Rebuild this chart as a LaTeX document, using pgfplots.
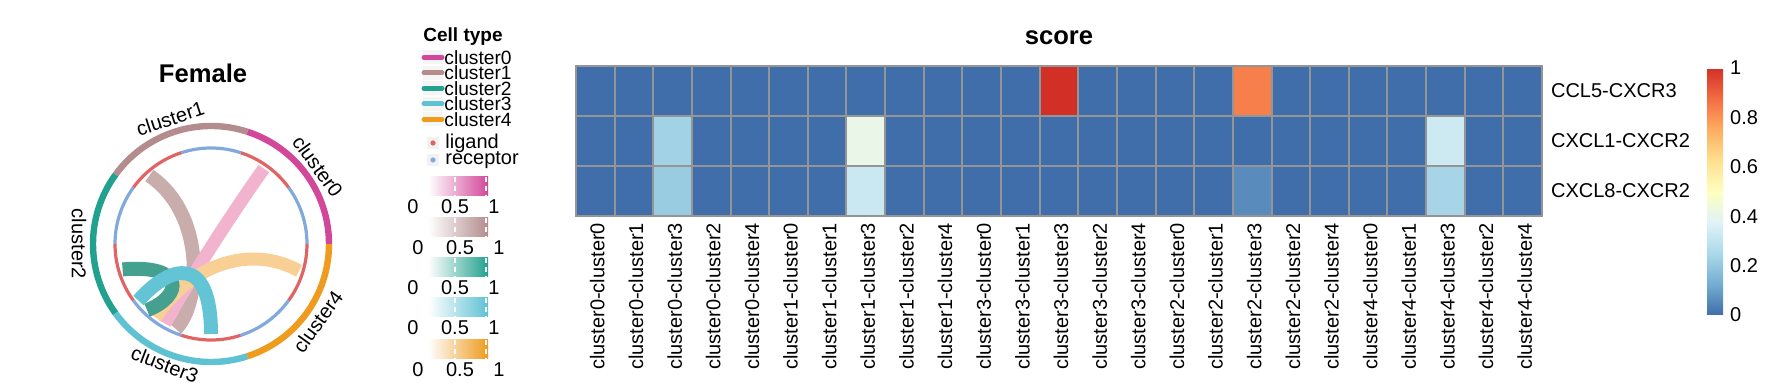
\documentclass[border=0pt]{standalone}
\usepackage{fontspec}
\setmainfont{Liberation Sans}
\usepackage{pgfplots}
\pgfplotsset{compat=1.18}
\pgfplotsset{every axis/.append style={/pgf/number format/assume math mode=true}}
\newcommand\fs[1]{\fontsize{#1}{#1}\selectfont}
\definecolor{cA}{HTML}{D2479A}
\definecolor{cB}{HTML}{B48C8E}
\definecolor{cC}{HTML}{22A18F}
\definecolor{cD}{HTML}{5EC2D3}
\definecolor{cE}{HTML}{EE9B1E}
\definecolor{chA}{HTML}{F2B3CF}
\definecolor{chB}{HTML}{C9ACAC}
\definecolor{chC}{HTML}{44A08F}
\definecolor{chD}{HTML}{62C4D4}
\definecolor{chE}{HTML}{F8CF94}
\definecolor{lig}{HTML}{E06464}
\definecolor{rec}{HTML}{82A9DC}
\definecolor{hgray}{HTML}{959595}
\begin{document}
\begin{tikzpicture}
\useasboundingbox (0,0) rectangle (891pt,-192pt);

% ---------------- chord diagram ----------------
\begin{axis}[at={(20.5pt,-207pt)}, anchor=south west, hide axis,
  x=0.5pt, y=0.5pt, xmin=-170, xmax=170, ymin=-170, ymax=170, clip=false]
\addplot[draw=none] coordinates {(0,0)};
% outer sectors
\draw[cA, line width=3.2pt] (axis cs:118,0) arc[start angle=0,end angle=72,radius=59pt];
\draw[cB, line width=3.2pt] (axis cs:36.46,112.23) arc[start angle=72,end angle=144,radius=59pt];
\draw[cC, line width=3.2pt] (axis cs:-95.46,69.36) arc[start angle=144,end angle=216,radius=59pt];
\draw[cD, line width=3.2pt] (axis cs:-95.46,-69.36) arc[start angle=216,end angle=288,radius=59pt];
\draw[cE, line width=3.2pt] (axis cs:36.46,-112.23) arc[start angle=288,end angle=360,radius=59pt];
% inner ligand / receptor ring
\draw[rec, line width=1.6pt] (axis cs:96,0) arc[start angle=0,end angle=36,radius=48pt];
\draw[lig, line width=1.6pt] (axis cs:77.66,56.43) arc[start angle=36,end angle=72,radius=48pt];
\draw[rec, line width=1.6pt] (axis cs:29.66,91.31) arc[start angle=72,end angle=108,radius=48pt];
\draw[lig, line width=1.6pt] (axis cs:-29.66,91.31) arc[start angle=108,end angle=144,radius=48pt];
\draw[rec, line width=1.6pt] (axis cs:-77.66,56.43) arc[start angle=144,end angle=180,radius=48pt];
\draw[lig, line width=1.6pt] (axis cs:-96,0) arc[start angle=180,end angle=216,radius=48pt];
\draw[rec, line width=1.6pt] (axis cs:-77.66,-56.43) arc[start angle=216,end angle=252,radius=48pt];
\draw[lig, line width=1.6pt] (axis cs:-29.66,-91.31) arc[start angle=252,end angle=288,radius=48pt];
\draw[rec, line width=1.6pt] (axis cs:29.66,-91.31) arc[start angle=288,end angle=324,radius=48pt];
\draw[lig, line width=1.6pt] (axis cs:77.66,-56.43) arc[start angle=324,end angle=360,radius=48pt];
% chords (ligand -> receptor)
\draw[chB, line width=7pt] (axis cs:-61.6,68.4) .. controls (axis cs:-5,30) and (axis cs:-10,-60) .. (axis cs:-35.2,-85.0);
\draw[chA, line width=6.5pt] (axis cs:52.8,75.4) .. controls (axis cs:10,15) and (axis cs:-30,-50) .. (axis cs:-46,-79.7);
\draw[chE, line width=6.5pt] (axis cs:88,-26.9) .. controls (axis cs:40,0) and (axis cs:-20,-20) .. (axis cs:-55.4,-73.5);
\draw[chC, line width=7pt] (axis cs:-88.4,-25.4) .. controls (axis cs:-25,-20) and (axis cs:-28,-52) .. (axis cs:-63.9,-66.2);
\draw[chD, line width=7pt] (axis cs:0,-90) .. controls (axis cs:0,-10) and (axis cs:-40,-20) .. (axis cs:-72.5,-56.6);
% sector labels
\node[rotate=-54, font=\fs{10}] at (axis cs:106.8,77.6) {cluster0};
\node[rotate=18, font=\fs{10}] at (axis cs:-40.8,125.5) {cluster1};
\node[rotate=-90, font=\fs{10}] at (axis cs:-132,0) {cluster2};
\node[rotate=-21, font=\fs{10}] at (axis cs:-46.2,-120.4) {cluster3};
\node[rotate=54, font=\fs{10}] at (axis cs:106.8,-77.6) {cluster4};
\end{axis}

% ---------------- title + legend (pixel units) ----------------
\begin{scope}[x=0.5pt, y=-0.5pt]
\node[font=\bfseries\fs{12.8}] at (203,73) {Female};
\node[font=\bfseries\fs{9.5}] at (463,37) {Cell type};
\foreach \y/\c/\t in {57.3/cA/cluster0, 72.8/cB/cluster1, 88.3/cC/cluster2, 103.8/cD/cluster3, 119.3/cE/cluster4}{
  \fill[gray!8] (423,\y-7) rectangle (443,\y+7);
  \draw[\c, line width=2.5pt, line cap=round] (424,\y) -- (442,\y);
  \node[anchor=west, inner sep=0pt, font=\fs{9.6}] at (444,\y) {\t};
}
\fill[gray!10] (427,137) rectangle (439,149);
\fill[lig] (433,143) circle (2.6);
\node[anchor=west, inner sep=0pt, font=\fs{10}] at (445,143) {ligand};
\fill[gray!10] (427,154) rectangle (439,166);
\fill[rec] (433,160) circle (2.6);
\node[anchor=west, inner sep=0pt, font=\fs{10}] at (445,160) {receptor};
\foreach \top/\c/\dx in {176.7/cA/0, 218/cB/5, 258/cC/0, 298/cD/0, 340/cE/5}{
  \shade[left color=white, right color=\c] (428,\top) rectangle (488,\top+19);
  \draw[white, line width=1pt, dash pattern=on 2.5pt off 2pt] (455,\top) -- (455,\top+19);
  \draw[white, line width=1pt, dash pattern=on 2.5pt off 2pt] (486,\top) -- (486,\top+19);
  \node[font=\fs{10}] at (413+\dx,\top+30) {0};
  \node[font=\fs{10}] at (455+\dx,\top+30) {0.5};
  \node[font=\fs{10}] at (494+\dx,\top+30) {1};
}
\end{scope}

% ---------------- heatmap ----------------
\begin{axis}[at={(288pt,-33pt)}, anchor=north west,
  scale only axis, width=483pt, height=75pt,
  xmin=-0.5, xmax=24.5, ymin=-0.5, ymax=2.5, y dir=reverse,
  enlargelimits=false,
  xtick={0,...,24},
  xticklabels={cluster0-cluster0,cluster0-cluster1,cluster0-cluster3,cluster0-cluster2,cluster0-cluster4,
    cluster1-cluster0,cluster1-cluster1,cluster1-cluster3,cluster1-cluster2,cluster1-cluster4,
    cluster3-cluster0,cluster3-cluster1,cluster3-cluster3,cluster3-cluster2,cluster3-cluster4,
    cluster2-cluster0,cluster2-cluster1,cluster2-cluster3,cluster2-cluster2,cluster2-cluster4,
    cluster4-cluster0,cluster4-cluster1,cluster4-cluster3,cluster4-cluster2,cluster4-cluster4},
  xticklabel style={rotate=90, anchor=east, font=\fs{10}, yshift=-1pt},
  ytick={0,1,2}, yticklabels={CCL5-CXCR3,CXCL1-CXCR2,CXCL8-CXCR2},
  yticklabel pos=right, yticklabel style={anchor=west, font=\fs{10}, xshift=1pt},
  major tick length=0pt, minor tick length=0pt,
  minor xtick={0.5,1.5,...,23.5}, minor ytick={0.5,1.5},
  xminorgrids=true, yminorgrids=true,
  minor grid style={draw=hgray, line width=1pt},
  axis on top,
  axis line style={draw=hgray, line width=1pt},
  colormap={rdylbu}{rgb255=(64,110,170) rgb255=(116,173,209) rgb255=(171,217,233) rgb255=(224,243,248) rgb255=(255,255,191) rgb255=(254,224,144) rgb255=(253,174,97) rgb255=(244,109,67) rgb255=(210,48,39)},
  point meta min=0, point meta max=1,
  title={score}, title style={at={(0.5,1)}, anchor=south, inner sep=0pt, yshift=4.5pt, font=\bfseries\fs{12.8}},
  colorbar,
  colorbar style={at={(parent axis.north east)}, anchor=north west, xshift=74pt, yshift=-1pt,
    scale only axis, width=8pt, height=123.5pt,
    ytick={0,0.2,0.4,0.6,0.8,1}, yticklabel style={font=\fs{10}},
    axis line style={draw=none}, major tick length=0pt},
]
\addplot[matrix plot*, mesh/cols=25, point meta=explicit] coordinates {
(0,0)[0] (1,0)[0] (2,0)[0] (3,0)[0] (4,0)[0] (5,0)[0] (6,0)[0] (7,0)[0] (8,0)[0] (9,0)[0] (10,0)[0] (11,0)[0] (12,0)[1] (13,0)[0] (14,0)[0] (15,0)[0] (16,0)[0] (17,0)[0.84] (18,0)[0] (19,0)[0] (20,0)[0] (21,0)[0] (22,0)[0] (23,0)[0] (24,0)[0]

(0,1)[0] (1,1)[0] (2,1)[0.23] (3,1)[0] (4,1)[0] (5,1)[0] (6,1)[0] (7,1)[0.41] (8,1)[0] (9,1)[0] (10,1)[0] (11,1)[0] (12,1)[0] (13,1)[0] (14,1)[0] (15,1)[0] (16,1)[0] (17,1)[0] (18,1)[0] (19,1)[0] (20,1)[0] (21,1)[0] (22,1)[0.33] (23,1)[0] (24,1)[0]

(0,2)[0] (1,2)[0] (2,2)[0.21] (3,2)[0] (4,2)[0] (5,2)[0] (6,2)[0] (7,2)[0.32] (8,2)[0] (9,2)[0] (10,2)[0] (11,2)[0] (12,2)[0] (13,2)[0] (14,2)[0] (15,2)[0] (16,2)[0] (17,2)[0.06] (18,2)[0] (19,2)[0] (20,2)[0] (21,2)[0] (22,2)[0.24] (23,2)[0] (24,2)[0]
};
\end{axis}
\end{tikzpicture}
\end{document}
